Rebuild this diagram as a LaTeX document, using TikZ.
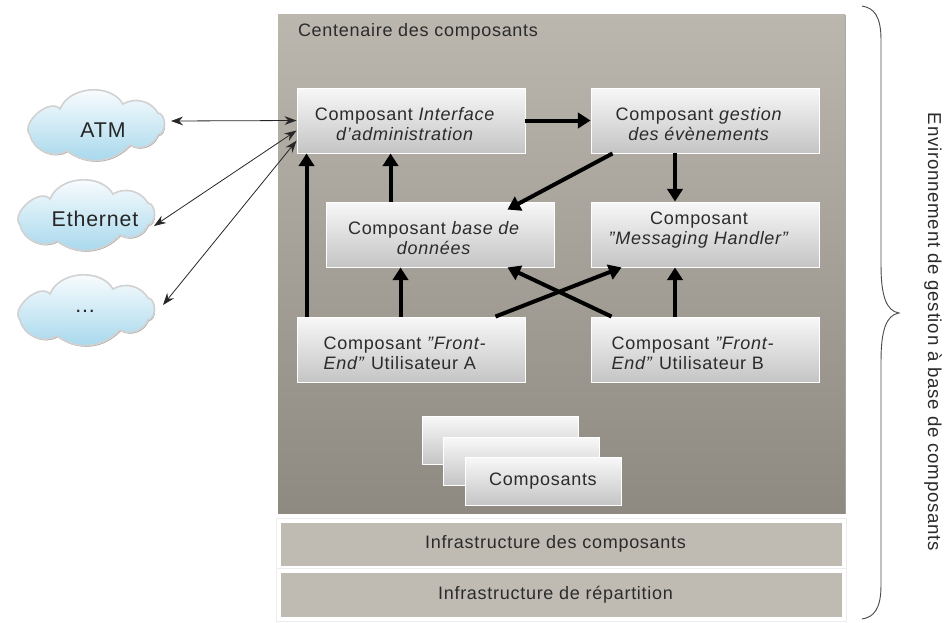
\documentclass[tikz,border=0pt]{standalone}
\usepackage{fontspec}
\setmainfont[LetterSpace=4]{Liberation Sans}
\usepackage{xcolor}
\usetikzlibrary{arrows.meta}
\usetikzlibrary{shadows}
\definecolor{wallTop}{HTML}{BBB7AF}
\definecolor{wallBottom}{HTML}{8E8A81}
\definecolor{barFill}{HTML}{BFBBB3}
\definecolor{inkText}{HTML}{2B2B2B}
\definecolor{cloudBlue}{HTML}{A3D6EC}
\newcommand{\pad}{\hspace*{9pt}}
\newcommand{\firstpad}{\pad\rule{0pt}{14.5pt}}
\tikzset{softshadow/.style={drop shadow={shadow xshift=.6pt,shadow yshift=-.9pt,opacity=.35,fill=black}},
 wall/.style={minimum width=425.25pt,minimum height=374.25pt,inner sep=0pt,top color=wallTop,bottom color=wallBottom,softshadow},
 basebox/.style={draw=white,line width=.7pt,minimum width=171pt,minimum height=48.75pt,inner sep=0pt,top color=white!97!black,bottom color=black!23,softshadow,text=inkText,font=\fontsize{13.5}{15}\selectfont},
 compbox/.style={basebox,align=center},
 frontbox/.style={basebox,align=left},
 stackbox/.style={basebox,minimum width=117pt,minimum height=35.5pt},
 infrabar/.style={draw=white,line width=3pt,fill=barFill,preaction={draw=black!7,line width=3.8pt},minimum width=423.75pt,inner sep=0pt,text=inkText,font=\fontsize{13.5}{15}\selectfont},
 plain/.style={text=inkText,font=\fontsize{13.5}{15}\selectfont},
 cloudname/.style={text=black!85,font=\fontsize{16}{18}\selectfont},
 bigarrow/.style={line width=3pt,-{Triangle[length=9.5pt,width=11.5pt]}},
 linkarrow/.style={line width=.6pt,black!85,{Stealth[length=9pt,width=6.5pt]}-{Stealth[length=9pt,width=6.5pt]}},
 netcloud/.pic={
    \draw [draw=black!18,line width=1.2pt,top color=white,middle color=cloudBlue!22,bottom color=cloudBlue,softshadow]
      (5,45) to[bend left=90] (35,19) to[bend left=64] (98,14) to[bend left=45] (133,23)
      to[bend left=85] (133,45) to[bend left=50] (105,55) to[bend left=42] (42,61)
      to[bend left=55] cycle;
 },
 }

\begin{document}
\begin{tikzpicture}[x=.75pt,y=-.75pt]
        \useasboundingbox (0,0) rectangle (946,622);
        % clouds
        \pic at (25,90) {netcloud};
        \pic at (15,180) {netcloud};
        \pic at (15,275) {netcloud};
        \node [cloudname] (atm) at (103,130) {ATM};
        \node [cloudname] (ethernet) at (95,219) {Ethernet};
        \node [cloudname] (others) at (85,311) {...};
        \coordinate (atmend) at (171,121);
        \coordinate (ethernetend) at (154,226);
        \coordinate (othersend) at (163,305);
        % container
        \node [wall] (container) at (561.5,263.5) {};
        \node [plain] (containername) at (418,32) {Centenaire des composants};
        \node [compbox] (interface) at (411,120.5) {Composant \textit{Interface}\firstpad\\\textit{d'administration}\pad};
        \node [compbox] (gestion) at (705,120.5) {Composant \textit{gestion}\firstpad\\\textit{des évènements}\pad};
        \node [compbox] (base) at (440,234.5) {Composant \textit{base de}\firstpad\\\textit{données}\pad};
        \node [compbox] (messaging) at (705,234.5) {Composant\pad\\\textit{"Messaging Handler"}\pad\rule[-9pt]{0pt}{9pt}};
        \node [frontbox] (fronta) at (411,349.5) {Composant \textit{"Front-}\firstpad\\\textit{End"} Utilisateur A};
        \node [frontbox] (frontb) at (705,349.5) {Composant \textit{"Front-}\pad\firstpad\\\textit{End"} Utilisateur B};
        \node [stackbox] (stackc) at (500.5,440.5) {};
        \node [stackbox] (stackb) at (521.5,461.5) {};
        \node [stackbox] (stacka) at (543,481.5) {Composants};
        % arrows inside the container
        \draw [bigarrow] (interface.east) -- (gestion.west);
        \draw [bigarrow] ([xshift=-22.5pt]gestion.south) -- ([xshift=-22.5pt]messaging.north);
        \draw [bigarrow] ([xshift=16.5pt]gestion.south west) -- ([xshift=-35.25pt,yshift=-6pt]base.north east);
        \draw [bigarrow] ([xshift=48.75pt]base.north west) -- ([xshift=70.5pt]interface.south west);
        \draw [bigarrow] ([xshift=7.5pt]fronta.north west) -- ([xshift=7.5pt]interface.south west);
        \draw [bigarrow] ([xshift=78pt]fronta.north west) -- ([xshift=56.25pt]base.south west);
        \draw [bigarrow] ([xshift=-22.5pt]frontb.north) -- ([xshift=-22.5pt]messaging.south);
        \draw [bigarrow] ([xshift=-22.5pt]fronta.north east) -- ([xshift=23.25pt]messaging.south west);
        \draw [bigarrow] ([xshift=15.75pt]frontb.north west) -- ([xshift=-35.25pt]base.south east);
        % links to the networks
        \draw [linkarrow] (atmend) -- (interface.west);
        \draw [linkarrow] (ethernetend) -- (interface.185);
        \draw [linkarrow] (othersend) -- (interface.190);
        % layers under the container
        \node [infrabar,minimum height=35.25pt] (composants) at (561.5,544) {Infrastructure des composants\pad};
        \node [infrabar,minimum height=36pt] (repartition) at (561.5,595) {Infrastructure de répartition\pad};
        % brace
        \node [plain,font=\fontsize{14}{15}\selectfont,rotate=-90] (envname) at (933,332) {Environnement de gestion à base de composants};
        \coordinate (bracetop) at (862,6);
        \coordinate (bracetip) at (899,313);
        \coordinate (bracebottom) at (862,619);
        \draw [black!70,line width=.7pt] (bracetop) .. controls (874,8) and (881,16) .. (881,40)
          -- (881,265) .. controls (881,295) and (886,311) .. (bracetip)
          .. controls (886,315) and (881,331) .. (881,361) -- (881,585)
          .. controls (881,609) and (874,617) .. (bracebottom);
    \end{tikzpicture}
\end{document}
